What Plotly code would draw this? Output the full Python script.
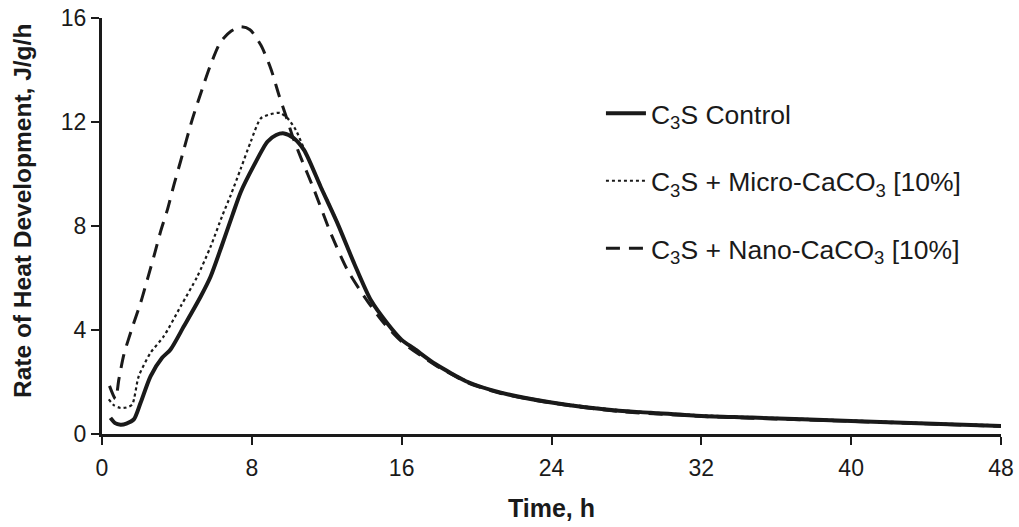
import plotly.graph_objects as go

# ---- data ----
control_t = [0.45, 0.7, 0.99, 1.3, 1.7, 2.06, 2.59, 3.21, 3.66, 4.37, 5.27, 5.8, 6.4, 6.96, 7.41, 8.12, 8.83, 9.3, 9.72, 10.2,
             10.79, 11.68, 12.58, 13.47, 14.36, 15.25, 16.0, 16.67, 17.8, 19.6, 21.3, 24.0, 27.6, 29.3, 32.0, 34.7, 40.0, 44.0, 48.0]
control_v = [0.62, 0.42, 0.36, 0.4, 0.56, 1.2, 2.22, 2.93, 3.25, 4.14, 5.29, 6.06, 7.25, 8.41, 9.31, 10.34, 11.24, 11.5, 11.56, 11.4,
             10.92, 9.5, 8.09, 6.55, 5.14, 4.24, 3.62, 3.28, 2.69, 1.98, 1.59, 1.21, 0.89, 0.82, 0.69, 0.63, 0.5, 0.4, 0.31]

micro_t = [0.36, 0.65, 0.99, 1.3, 1.61, 1.96, 2.59, 3.3, 4.2, 5.09, 5.8, 6.43, 6.87, 7.41, 7.94, 8.48, 9.0, 9.5, 9.9, 10.35,
           10.8, 11.68, 12.58, 13.47, 14.36, 15.25, 16.0, 17.8, 19.6, 21.3, 24.0, 27.6, 32.0, 34.7, 40.0, 44.0, 48.0]
micro_v = [1.33, 1.1, 1.0, 1.02, 1.13, 2.22, 3.12, 3.76, 4.91, 6.06, 7.21, 8.41, 9.18, 10.21, 11.24, 12.14, 12.3, 12.35, 12.15, 11.69,
           10.95, 9.55, 8.12, 6.55, 5.12, 4.22, 3.62, 2.7, 2.0, 1.6, 1.23, 0.92, 0.72, 0.65, 0.52, 0.42, 0.33]

nano_t = [0.4, 0.72, 0.9, 1.17, 1.61, 2.06, 2.42, 2.77, 3.13, 3.49, 3.84, 4.2, 4.82, 5.36, 5.8, 6.34, 6.9, 7.41, 7.9, 8.48,
          9.01, 9.45, 9.81, 10.2, 10.6, 11.33, 12.22, 13.11, 14.18, 15.07, 16.0, 17.8, 19.6, 21.3, 24.0, 27.6, 32.0, 34.7, 40.0, 44.0, 48.0]
nano_v = [1.85, 1.35, 2.1, 3.06, 4.08, 5.04, 5.94, 6.83, 7.79, 8.62, 9.58, 10.5, 12.1, 13.29, 14.2, 15.09, 15.5, 15.66, 15.55, 14.96,
          14.06, 13.03, 12.26, 11.4, 10.66, 9.38, 7.71, 6.3, 5.1, 4.25, 3.55, 2.65, 1.95, 1.56, 1.19, 0.87, 0.68, 0.61, 0.49, 0.39, 0.30]

series_names = ["C<sub>3</sub>S Control",
                "C<sub>3</sub>S + Micro-CaCO<sub>3</sub> [10%]",
                "C<sub>3</sub>S + Nano-CaCO<sub>3</sub> [10%]"]

x_ticks = [0, 8, 16, 24, 32, 40, 48]
y_ticks = [0, 4, 8, 12, 16]

x_title = "Time, h"
y_title = "Rate of Heat Development, J/g/h"

FONT = "Liberation Sans, Arial, sans-serif"
INK = "#1a1a1a"

fig = go.Figure()
fig.add_trace(go.Scatter(x=control_t, y=control_v, mode="lines", name=series_names[0],
                         legendgroup="a", line=dict(color=INK, width=4, shape="spline", smoothing=0.7)))
fig.add_trace(go.Scatter(x=micro_t, y=micro_v, mode="lines", name=series_names[1],
                         legendgroup="b", line=dict(color=INK, width=2.2, dash="dot", shape="spline", smoothing=0.7)))
fig.add_trace(go.Scatter(x=nano_t, y=nano_v, mode="lines", name=series_names[2],
                         legendgroup="c", line=dict(color=INK, width=3, dash="14px,9px", shape="spline", smoothing=0.7)))

W, H = 1019, 527
L, R, T, B = 102, 18, 18, 93
PW = W - L - R
fig.update_layout(
    width=W, height=H,
    margin=dict(l=L, r=R, t=T, b=B),
    paper_bgcolor="white", plot_bgcolor="white",
    font=dict(family=FONT, color=INK, size=23),
    showlegend=True,
    legend=dict(x=0.555, y=0.828, xanchor="left", yanchor="top",
                bgcolor="rgba(0,0,0,0)", font=dict(size=26.5, family=FONT, color=INK),
                tracegroupgap=30, itemwidth=40),
    xaxis=dict(range=[0, 48], tickvals=x_ticks, ticktext=[str(v) for v in x_ticks],
               automargin=False, ticklabeloverflow="allow", ticklabelstandoff=3,
               showline=True, linecolor=INK, linewidth=3, mirror=False,
               ticks="outside", ticklen=8, tickwidth=2, tickcolor=INK,
               showgrid=False, zeroline=False,
               tickfont=dict(size=23, family=FONT, color=INK),
               title=dict(text="<b>" + x_title + "</b>", font=dict(size=25, family=FONT, color=INK), standoff=20)),
    yaxis=dict(range=[0, 16], tickvals=y_ticks, ticktext=[str(v) for v in y_ticks],
               automargin=False, ticklabeloverflow="allow",
               showline=True, linecolor=INK, linewidth=3,
               ticks="outside", ticklen=8, tickwidth=2, tickcolor=INK,
               showgrid=False, zeroline=False,
               tickfont=dict(size=23, family=FONT, color=INK)),
)

# y-axis title as rotated text, centred a little above the plot middle as in the reference
fig.add_annotation(text="<b>" + y_title + "</b>", textangle=-90,
                   xref="paper", yref="paper", x=(22 - L) / PW, y=0.536,
                   xanchor="center", yanchor="middle", showarrow=False,
                   font=dict(size=24.5, family=FONT, color=INK))

# remove the default page margin so the figure sits at the window's top-left corner
fig.write_html("out.html", config={"displayModeBar": False},
               post_script="document.body.style.margin='0';document.body.style.overflow='hidden';")
